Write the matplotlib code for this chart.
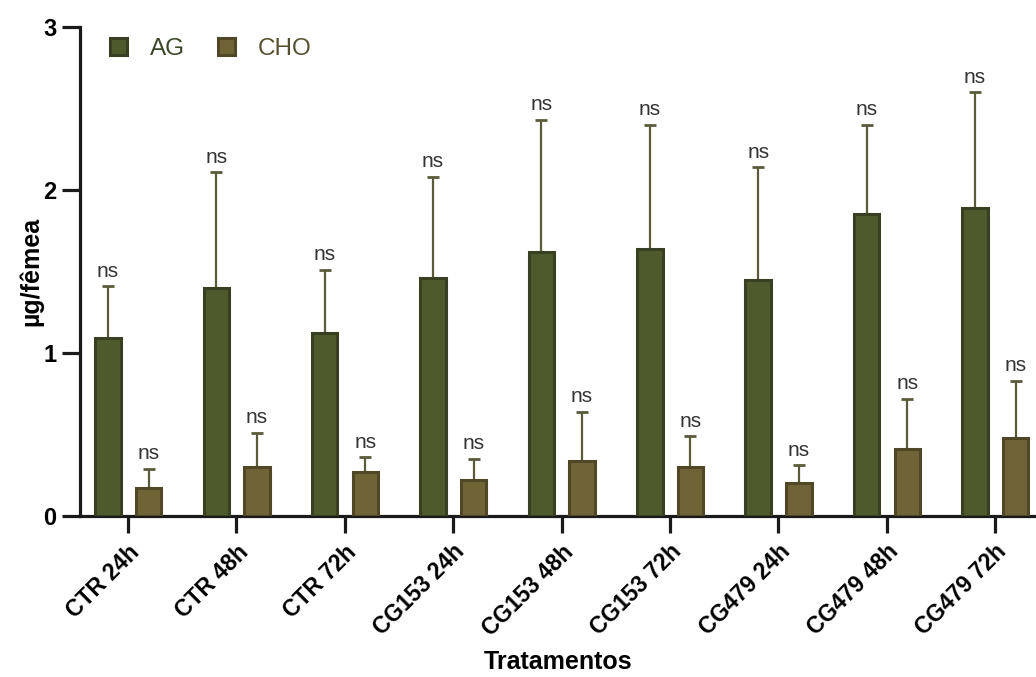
import matplotlib
matplotlib.use("Agg")
import matplotlib.pyplot as plt
import matplotlib.transforms as mtransforms
from matplotlib.patches import Patch
import numpy as np

plt.rcParams['font.family'] = ['Liberation Sans', 'DejaVu Sans']

categories = ['CTR 24h', 'CTR 48h', 'CTR 72h', 'CG153 24h', 'CG153 48h',
              'CG153 72h', 'CG479 24h', 'CG479 48h', 'CG479 72h']
series_names = ['AG', 'CHO']
ag_mean = [1.09, 1.40, 1.12, 1.46, 1.62, 1.64, 1.45, 1.85, 1.89]
ag_err = [0.32, 0.71, 0.39, 0.62, 0.81, 0.76, 0.69, 0.55, 0.71]
cho_mean = [0.17, 0.30, 0.27, 0.22, 0.34, 0.30, 0.20, 0.41, 0.48]
cho_err = [0.12, 0.21, 0.09, 0.13, 0.30, 0.19, 0.11, 0.31, 0.35]
sig_labels = ['ns'] * 9
yticks = [0, 1, 2, 3]

fill_colors = ['#4e5a2c', '#6f6337']
edge_colors = ['#384021', '#4f4726']
text_colors = ['#3b4828', '#575030']
err_color = '#5b5b3b'

fig = plt.figure(figsize=(10.36, 6.77), dpi=100)
ax = fig.add_axes([80/1036, 1-516/677, 956/1036, 489/677])

x = np.arange(len(categories))
offsets = [-0.185, 0.19]
width = 0.235
for means, errs, off, fc, ec in zip([ag_mean, cho_mean], [ag_err, cho_err],
                                   offsets, fill_colors, edge_colors):
    xs = x + off
    ax.errorbar(xs, means, yerr=[np.zeros(len(errs)), errs], fmt='none',
                ecolor=err_color, elinewidth=1.6, capsize=4.3, capthick=2, zorder=2)
    ax.bar(xs, means, width=width, color=fc, edgecolor=ec, linewidth=2.2, zorder=3)
    for xi, m, e, lab in zip(xs, means, errs, sig_labels):
        ax.annotate(lab, (xi, m + e), xytext=(0, 4), textcoords='offset points',
                    ha='center', va='bottom', fontsize=15, color='#333333')

ax.set_xlim(-0.443, 8.378)
ax.set_ylim(0, 3)
ax.set_yticks(yticks)
ax.set_yticklabels([str(t) for t in yticks], fontsize=17, fontweight='bold')
ax.set_xticks(x)
ax.set_xticklabels(categories, fontsize=16.5, fontweight='bold', rotation=45,
                   ha='right', va='top', rotation_mode='anchor')
offset = mtransforms.ScaledTranslation(4/72, 0, fig.dpi_scale_trans)
for lbl in ax.get_xticklabels():
    lbl.set_transform(lbl.get_transform() + offset)

for s in ['top', 'right']:
    ax.spines[s].set_visible(False)
for s in ['left', 'bottom']:
    ax.spines[s].set_linewidth(2.3)
    ax.spines[s].set_color('#1a1a1a')
ax.tick_params(axis='y', length=13, width=2.3, pad=4, color='#1a1a1a')
ax.tick_params(axis='x', length=12, width=2.3, pad=5.5, color='#1a1a1a')

ax.set_ylabel('µg/fêmea', fontsize=18, fontweight='bold')
ax.yaxis.set_label_coords(-0.038, 0.5)
ax.set_xlabel('Tratamentos', fontsize=18, fontweight='bold')
ax.xaxis.set_label_coords(0.5, -0.275)

handles = [Patch(facecolor=fc, edgecolor=ec, linewidth=2.2)
           for fc, ec in zip(fill_colors, edge_colors)]
leg = ax.legend(handles, series_names, loc='upper left', ncol=2, frameon=False,
                bbox_to_anchor=(0.031, 0.978), borderaxespad=0, borderpad=0,
                fontsize=17.5, handlelength=0.7, handleheight=0.7,
                handletextpad=0.95, columnspacing=1.35, labelcolor=text_colors)

fig.savefig('out.png', dpi=100)
